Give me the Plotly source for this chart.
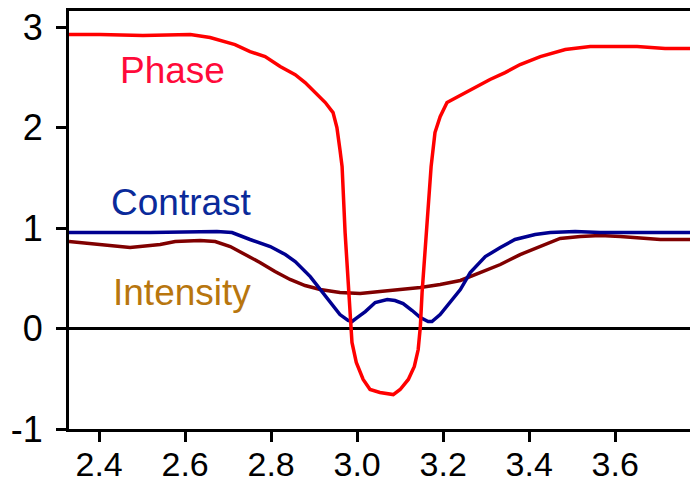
import plotly.graph_objects as go

phase_x = [2.330, 2.402, 2.502, 2.612, 2.658, 2.716, 2.751, 2.786, 2.821, 2.856, 2.879, 2.902,
           2.926, 2.944, 2.953, 2.960, 2.965, 2.972, 2.979, 2.984, 2.988, 2.998, 3.014, 3.030,
           3.053, 3.084, 3.100, 3.119, 3.133, 3.142, 3.147, 3.151, 3.158, 3.165, 3.172, 3.181,
           3.193, 3.209, 3.235, 3.263, 3.309, 3.344, 3.379, 3.426, 3.460, 3.484, 3.542, 3.651,
           3.716, 3.774]
phase_y = [2.925, 2.925, 2.915, 2.925, 2.896, 2.826, 2.756, 2.706, 2.607, 2.527, 2.448, 2.348,
           2.249, 2.149, 2.000, 1.781, 1.612, 0.955, 0.458, 0.090, -0.139, -0.338, -0.507, -0.607,
           -0.637, -0.657, -0.607, -0.507, -0.378, -0.209, 0.020, 0.358, 0.786, 1.284, 1.612, 1.950,
           2.109, 2.249, 2.308, 2.378, 2.478, 2.547, 2.627, 2.706, 2.746, 2.776, 2.806, 2.806,
           2.786, 2.786]

contrast_x = [2.330, 2.519, 2.674, 2.709, 2.751, 2.798, 2.833, 2.856, 2.891, 2.914, 2.937, 2.960,
              2.979, 2.988, 3.000, 3.019, 3.042, 3.070, 3.088, 3.107, 3.128, 3.147, 3.165, 3.174,
              3.193, 3.216, 3.240, 3.263, 3.298, 3.333, 3.367, 3.414, 3.449, 3.507, 3.565, 3.774]
contrast_y = [0.955, 0.955, 0.965, 0.955, 0.886, 0.816, 0.736, 0.667, 0.517, 0.388, 0.259, 0.139,
              0.080, 0.070, 0.109, 0.169, 0.259, 0.289, 0.279, 0.249, 0.179, 0.109, 0.070, 0.070,
              0.139, 0.259, 0.388, 0.557, 0.716, 0.806, 0.886, 0.935, 0.955, 0.965, 0.955, 0.955]

intensity_x = [2.330, 2.402, 2.472, 2.542, 2.577, 2.635, 2.670, 2.705, 2.740, 2.774, 2.809, 2.844,
               2.879, 2.914, 2.960, 3.007, 3.053, 3.100, 3.147, 3.193, 3.240, 3.286, 3.333, 3.379,
               3.426, 3.472, 3.519, 3.565, 3.612, 3.658, 3.705, 3.774]
intensity_y = [0.866, 0.836, 0.806, 0.836, 0.866, 0.876, 0.866, 0.816, 0.736, 0.657, 0.567, 0.488,
               0.428, 0.388, 0.358, 0.348, 0.368, 0.388, 0.408, 0.438, 0.478, 0.557, 0.637, 0.736,
               0.816, 0.896, 0.916, 0.925, 0.916, 0.905, 0.886, 0.886]

x_ticks = [2.4, 2.6, 2.8, 3.0, 3.2, 3.4, 3.6]
x_tick_labels = ["2.4", "2.6", "2.8", "3.0", "3.2", "3.4", "3.6"]
y_ticks = [-1, 0, 1, 2, 3]
y_tick_labels = ["-1", "0", "1", "2", "3"]

labels = ["Phase", "Contrast", "Intensity"]
label_x = [2.444, 2.424, 2.428]
label_y = [2.572, 1.259, 0.363]
label_colors = ["#ff0a3a", "#0a2a9a", "#b8760e"]

fig = go.Figure()
fig.add_trace(go.Scatter(x=intensity_x, y=intensity_y, mode="lines",
                         line=dict(color="#800000", width=3.5), name="Intensity"))
fig.add_trace(go.Scatter(x=contrast_x, y=contrast_y, mode="lines",
                         line=dict(color="#000090", width=3.5), name="Contrast"))
fig.add_trace(go.Scatter(x=phase_x, y=phase_y, mode="lines",
                         line=dict(color="#ff0000", width=3.5), name="Phase"))

for t, lx, ly, c in zip(labels, label_x, label_y, label_colors):
    fig.add_annotation(x=lx, y=ly, text=t, showarrow=False, xanchor="left", yanchor="middle",
                       font=dict(family="Liberation Sans, Arial", size=37, color=c))

fig.update_layout(
    width=690, height=484,
    margin=dict(l=69, r=0, t=11, b=55),
    plot_bgcolor="white", paper_bgcolor="white",
    showlegend=False,
    font=dict(family="Liberation Sans, Arial", size=36, color="black"),
)
fig.update_xaxes(range=[2.330, 3.774], tickvals=x_ticks, ticktext=x_tick_labels,
                 tickfont=dict(family="Liberation Sans, Arial", size=34, color="black"),
                 automargin=False, ticklabelstandoff=-7,
                 showgrid=False, zeroline=False, showline=True, linecolor="black", linewidth=3,
                 mirror=True, ticks="outside", ticklen=10, tickwidth=3, tickcolor="black")
fig.update_yaxes(range=[-1.0, 3.16], tickvals=y_ticks, ticktext=y_tick_labels,
                 tickfont=dict(family="Liberation Sans, Arial", size=36, color="black"),
                 automargin=False,
                 showgrid=False, zeroline=True, zerolinecolor="black", zerolinewidth=3,
                 showline=True, linecolor="black", linewidth=3,
                 ticks="outside", ticklen=10, tickwidth=3, tickcolor="black", ticklabelstandoff=6)

fig.write_html("out.html")
